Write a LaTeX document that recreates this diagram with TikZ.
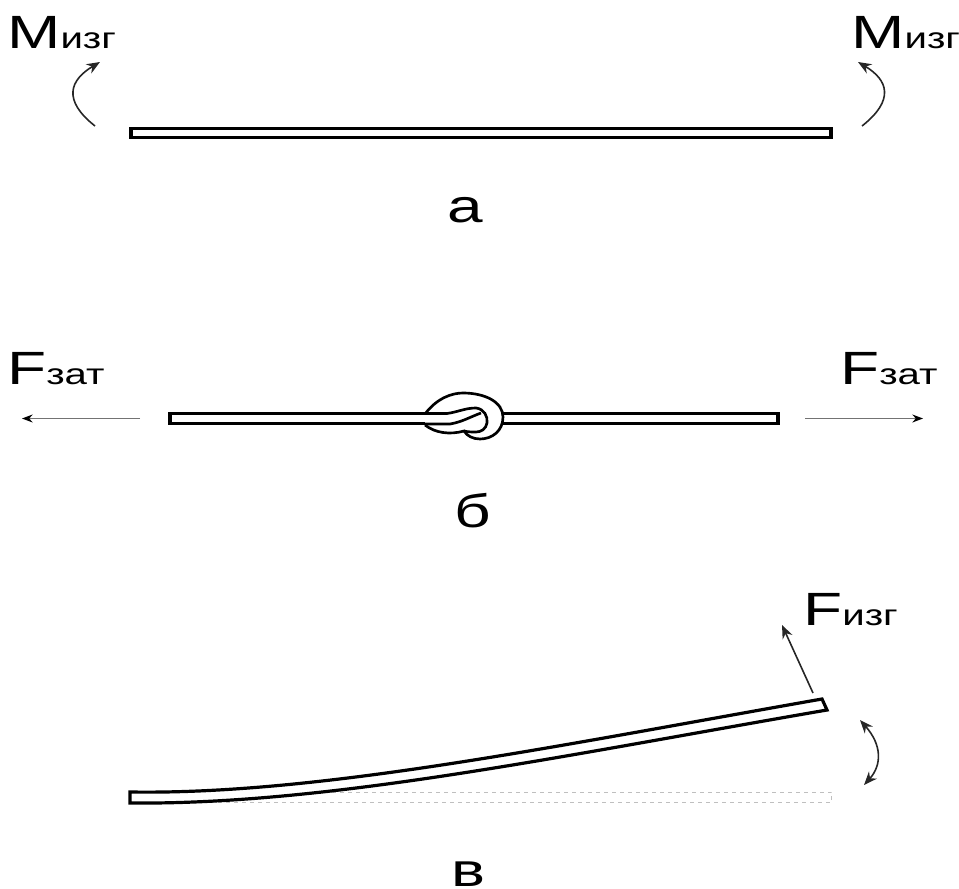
\documentclass[tikz,border=0pt]{standalone}
\usepackage{fontspec}
\usetikzlibrary{arrows.meta}
\newfontfamily\labelfont[FakeStretch=1.37]{Liberation Sans}
\newcommand{\biglab}[2]{{\fontsize{35}{38}\selectfont\labelfont #1\fontsize{22}{25}\selectfont\labelfont #2}}
\tikzset{
  beam/.style={draw, rectangle, line width=2.4pt, inner sep=0pt},
  force/.style={-{Stealth[length=8pt,width=6pt,black]}, line width=1pt, black!55},
  moment/.style={-{Stealth[length=10pt,width=8pt]}, line width=1.2pt, black!85},
  letter/.style={font=\fontsize{35}{38}\selectfont\labelfont, inner sep=0pt}
}
\begin{document}
\begin{tikzpicture}[x=0.75pt, y=-0.75pt]
     \useasboundingbox (0,0) rectangle (959,888);

     % Panel a
     \node[beam, minimum width=525pt, minimum height=6.8pt] (beamA) at (481,133) {};
     \node[anchor=base west, inner sep=0pt] (momLeft) at (7,49) {\biglab{M}{изг}};
     \node[anchor=base west, inner sep=0pt] (momRight) at (851,49) {\biglab{M}{изг}};
     \coordinate (momLeftS) at (95,126);
     \coordinate (momLeftE) at (100,62);
     \coordinate (momRightS) at (862,126);
     \coordinate (momRightE) at (858,62);
     \draw[moment] (momLeftS) .. controls (62,100) and (70,80) .. (momLeftE);
     \draw[moment] (momRightS) .. controls (895,100) and (888,80) .. (momRightE);
     \node[letter, anchor=base] (labelA) at (465,222) {а};

     % Panel b
     \node[beam, minimum width=456pt, minimum height=7.6pt] (beamB) at (474,418.75) {};
     \node[anchor=base west, inner sep=0pt] (forceLeft) at (7,384) {\biglab{F}{зат}};
     \node[anchor=base west, inner sep=0pt] (forceRight) at (840,384) {\biglab{F}{зат}};
     \coordinate (forceLeftS) at (140,418.5);
     \coordinate (forceLeftE) at (22,418.5);
     \coordinate (forceRightS) at (805,418.5);
     \coordinate (forceRightE) at (923,418.5);
     \draw[force] (forceLeftS) -- (forceLeftE);
     \draw[force] (forceRightS) -- (forceRightE);

     % Knot
     \draw[line width=2pt, fill=white] (425,414) .. controls (437,398) and (452,393) .. (463,393)
        .. controls (485,393) and (503,402) .. (503,417)
        .. controls (503,431) and (492,439) .. (480,439)
        .. controls (473,439) and (467,436) .. (464,431)
        .. controls (450,435) and (435,433) .. (425,425);
     \draw[line width=2pt] (425,413.5) -- (447,413.5) .. controls (458,412) and (465,408) .. (476,408)
        .. controls (484,409) and (488,416) .. (487,423)
        .. controls (486,429) and (481,432) .. (476,432) .. controls (472,432) and (468,432) .. (464,431);
     \draw[line width=2pt] (425,424) -- (450,424) .. controls (462,422) and (470,417) .. (481,413);
     \node[letter, anchor=base] (labelB) at (473,527) {б};

     % Panel c
     \node[draw=black!25, dashed, rectangle, line width=0.6pt, minimum width=526pt, minimum height=8pt] (beamRest) at (481,797.5) {};
     \draw[line width=2.4pt, fill=white, line join=miter] (130,792) .. controls (320,795) and (560,745) .. (822,699)
        -- (827,710) .. controls (565,755) and (330,805) .. (130,803) -- cycle;
     \coordinate (forceTipS) at (813,693);
     \coordinate (forceTipE) at (782,625);
     \draw[moment] (forceTipS) -- (forceTipE);
     \coordinate (swingS) at (860,720);
     \coordinate (swingE) at (864,785);
     \draw[{Stealth[length=10pt,width=8pt]}-{Stealth[length=10pt,width=8pt]}, line width=1.2pt, black!85] (swingS) .. controls (882,745) and (882,765) .. (swingE);
     \node[anchor=base west, inner sep=0pt] (forceTip) at (803,625) {\biglab{F}{изг}};
     \node[letter, anchor=base] (labelC) at (468,886) {в};
\end{tikzpicture}
\end{document}
